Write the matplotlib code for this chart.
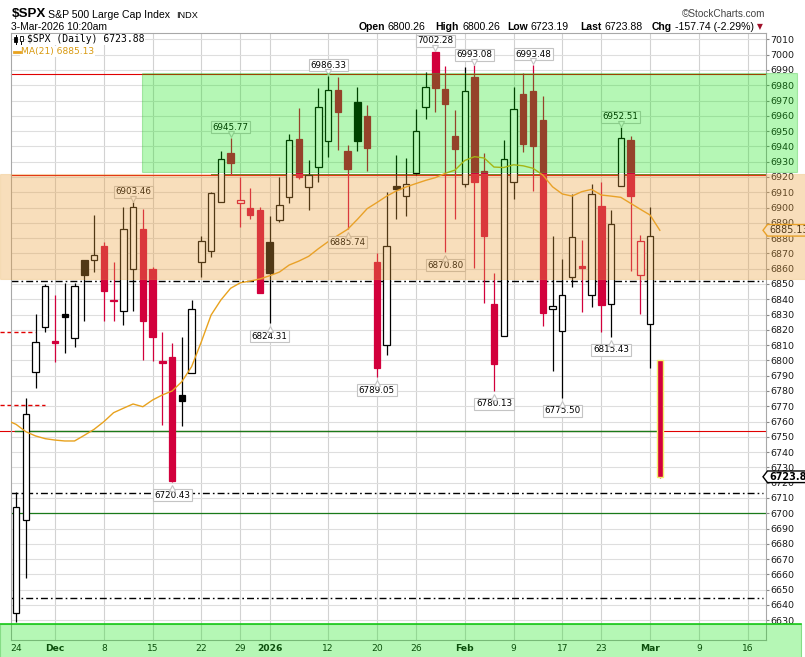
import matplotlib
matplotlib.use("Agg")
import matplotlib.pyplot as plt
import matplotlib.patches as patches
import matplotlib.transforms as mtransforms
import numpy as np

W, H, DPI = 805, 657, 100

# ---- data (daily candles, 24-Nov-2025 .. 3-Mar-2026) ----
dates = [
    "Nov24", "Nov25", "Nov26", "Nov28",
    "Dec1", "Dec2", "Dec3", "Dec4", "Dec5", "Dec8", "Dec9", "Dec10", "Dec11", "Dec12",
    "Dec15", "Dec16", "Dec17", "Dec18", "Dec19", "Dec22", "Dec23", "Dec24", "Dec26",
    "Dec29", "Dec30", "Dec31",
    "Jan2", "Jan5", "Jan6", "Jan7", "Jan8", "Jan9", "Jan12", "Jan13", "Jan14", "Jan15",
    "Jan16", "Jan20", "Jan21", "Jan22", "Jan23", "Jan26", "Jan27", "Jan28", "Jan29", "Jan30",
    "Feb2", "Feb3", "Feb4", "Feb5", "Feb6", "Feb9", "Feb10", "Feb11", "Feb12", "Feb13",
    "Feb17", "Feb18", "Feb19", "Feb20", "Feb23", "Feb24", "Feb25", "Feb26", "Feb27",
    "Mar2", "Mar3",
]
opens = [
    6634.6, 6695.6, 6792.2, 6821.7,
    6812.8, 6830.4, 6814.5, 6865.7, 6865.7, 6874.9, 6839.8, 6832.5, 6860.0, 6886.0,
    6859.8, 6799.6, 6802.0, 6777.2, 6791.6, 6864.2, 6871.6, 6903.8, 6935.9,
    6902.8, 6899.7, 6898.4,
    6877.7, 6891.7, 6907.1, 6944.8, 6913.3, 6926.7, 6943.3, 6976.9, 6937.0, 6969.1,
    6959.9, 6864.6, 6809.9, 6914.1, 6907.4, 6922.4, 6965.6, 7001.8, 6977.6, 6946.8,
    6915.4, 6985.6, 6923.9, 6836.9, 6816.0, 6916.5, 6974.3, 6976.3, 6957.3, 6833.4,
    6819.3, 6854.4, 6861.5, 6842.6, 6901.2, 6836.7, 6914.3, 6944.2, 6855.7,
    6823.6, 6800.26,
]
highs = [
    6714.1, 6775.2, 6830.4, 6850.0,
    6842.8, 6850.5, 6850.5, 6865.9, 6895.1, 6877.7, 6864.6, 6900.6, 6903.46, 6899.1,
    6860.9, 6818.6, 6811.6, 6815.1, 6839.5, 6881.4, 6910.5, 6937.0, 6945.77,
    6920.2, 6912.8, 6900.6,
    6894.5, 6920.2, 6948.1, 6964.9, 6931.1, 6978.0, 6986.33, 6985.6, 6940.9, 6979.1,
    6967.1, 6870.5, 6910.2, 6934.4, 6932.6, 6964.3, 6988.5, 7002.28, 6992.8, 6963.8,
    6992.1, 6993.08, 6935.5, 6857.0, 6944.2, 6979.1, 6987.8, 6993.48, 6973.0, 6881.4,
    6866.3, 6908.9, 6878.8, 6915.4, 6916.7, 6898.4, 6952.51, 6946.8, 6882.0,
    6900.6, 6800.26,
]
lows = [
    6629.1, 6657.9, 6782.2, 6818.8,
    6798.8, 6805.1, 6809.0, 6826.0, 6857.6, 6826.0, 6826.0, 6823.4, 6832.5, 6800.3,
    6799.6, 6757.7, 6720.43, 6757.3, 6791.6, 6854.8, 6867.9, 6903.5, 6921.3,
    6887.5, 6892.5, 6843.9,
    6824.31, 6890.7, 6903.2, 6918.5, 6898.4, 6916.9, 6933.3, 6937.7, 6885.74, 6937.2,
    6924.1, 6789.05, 6803.7, 6892.5, 6894.7, 6921.3, 6958.1, 6962.7, 6870.80, 6892.5,
    6913.6, 6860.7, 6837.4, 6780.13, 6816.0, 6905.6, 6936.5, 6911.0, 6822.7, 6793.3,
    6775.50, 6848.2, 6831.9, 6835.1, 6818.8, 6815.43, 6914.0, 6858.7, 6830.4,
    6795.2, 6723.19,
]
closes = [
    6704.3, 6764.9, 6811.9, 6848.5,
    6811.6, 6828.2, 6848.7, 6856.1, 6869.2, 6845.6, 6838.8, 6885.8, 6900.2, 6825.8,
    6815.5, 6798.6, 6720.9, 6773.3, 6833.4, 6878.1, 6909.7, 6931.6, 6929.3,
    6904.8, 6895.3, 6844.3,
    6857.4, 6901.5, 6944.2, 6920.2, 6921.5, 6965.6, 6976.7, 6962.7, 6925.4, 6943.7,
    6939.2, 6795.2, 6874.7, 6912.3, 6915.2, 6949.9, 6978.6, 6978.0, 6967.9, 6938.1,
    6976.3, 6916.9, 6881.6, 6797.5, 6931.8, 6964.3, 6941.4, 6940.3, 6831.2, 6835.4,
    6842.6, 6880.5, 6860.2, 6908.7, 6836.3, 6889.2, 6945.3, 6907.8, 6877.9,
    6881.62, 6723.88,
]
PREV_CLOSE = 6603.0          # close before the first candle (sets its colour)

# MA(21), first value is the day before the first candle
ma21 = [
    6761.0,
    6758.2, 6753.4, 6750.6, 6748.8, 6747.9, 6747.3, 6747.3, 6751.0, 6754.9, 6759.9,
    6765.8, 6768.7, 6771.5, 6769.7, 6774.1, 6777.4, 6780.0, 6786.1, 6795.9, 6812.2,
    6829.7, 6839.5, 6847.2, 6850.8, 6851.9, 6853.3, 6855.4, 6857.8, 6862.4, 6865.0,
    6868.1, 6873.1, 6877.7, 6881.8, 6885.8, 6892.3, 6899.3, 6903.3, 6907.5, 6910.9,
    6913.5, 6915.7, 6917.8, 6919.6, 6922.4, 6924.5, 6930.8, 6933.3, 6932.4, 6926.5,
    6926.2, 6928.0, 6927.3, 6925.7, 6921.3, 6913.6, 6908.9, 6907.5, 6910.4, 6911.9,
    6908.2, 6907.5, 6906.7, 6902.8, 6898.9, 6895.1, 6885.13,
]

tick_idx = [0, 4, 9, 14, 19, 23, 26, 32, 37, 41, 46, 51, 56, 60, 65, 70, 75]
tick_lbl = ["24", "Dec", "8", "15", "22", "29", "2026", "12", "20", "26",
            "Feb", "9", "17", "23", "Mar", "9", "16"]
bold_lbl = {"Dec", "2026", "Feb", "Mar"}

high_tag_idx = [12, 22, 32, 43, 47, 53, 62]
low_tag_idx = [16, 26, 34, 37, 44, 49, 56, 61]

# user-drawn levels / zones (price units)
green_zone = (6923.0, 6987.8)
orange_zone = (6853.0, 6921.8)
bottom_zone = (6590.0, 6627.4)
red_levels = [6987.4, 6921.3, 6754.0]
dashdot_levels = [6852.2, 6713.1, 6644.4]
green_full = 6700.0
left_red_dash = [(6818.4, 35), (6770.6, 45)]   # (price, right end in px)

# ---- colours ----
RED = "#d2003c"
BLACK = "#000000"
MA_COL = "#e8a21e"
GRID = "#dedede"
HEAD_FONT = "Liberation Sans"

# ---- layout in pixels ----
AX_L, AX_R, AX_T, AX_B = 11, 766, 33, 640
PX_PER_DAY = 9.755
X0_PX = 16.0


def px_to_i(px):
    return (px - X0_PX) / PX_PER_DAY


fig = plt.figure(figsize=(W / DPI, H / DPI), dpi=DPI)
fig.patch.set_facecolor("white")
ax = fig.add_axes([AX_L / W, 1 - AX_B / H, (AX_R - AX_L) / W, (AX_B - AX_T) / H])
ax.set_facecolor("white")
XMIN, XMAX = px_to_i(AX_L), px_to_i(AX_R)
ax.set_xlim(XMIN, XMAX)
ax.set_ylim(6617.1, 7014.2)

# grid
ax.set_yticks(np.arange(6630, 7011, 10))
ax.grid(axis="y", color=GRID, lw=0.8, zorder=0)
for t in tick_idx[1:]:
    ax.axvline(t, color="#d2d2d2", lw=0.8, zorder=0.5)

ax.set_xticks(tick_idx)
ax.set_xticklabels(tick_lbl)
for lab in ax.get_xticklabels():
    if lab.get_text() in bold_lbl:
        lab.set_fontweight("bold")
ax.tick_params(axis="x", length=0, pad=3.2, labelsize=6.6, colors="#111111")
ax.yaxis.tick_right()
ax.tick_params(axis="y", length=2, width=0.8, pad=0.8, labelsize=6.8,
               colors="#888888", labelcolor="#1a1a1a")
for sp in ax.spines.values():
    sp.set_color("#a8a8a8")
    sp.set_linewidth(0.8)

# ---- level lines ----
x_fig0 = px_to_i(0)
for lv in red_levels:
    ax.plot([x_fig0 if lv < 6800 else XMIN, XMAX], [lv, lv], color="#e00000",
            lw=0.8, zorder=2, clip_on=False)
ax.plot([px_to_i(15), 66], [6754.0, 6754.0], color="#1a7a1a", lw=1.0, zorder=2.1)
ax.plot([20, XMAX], [6922.1, 6922.1], color="#1a7a1a", lw=0.7, zorder=1.9)
ax.axhline(green_full, color="#1a7a1a", lw=0.9, zorder=2)
for lv in dashdot_levels:
    ax.plot([XMIN, px_to_i(763)], [lv, lv], color="black", lw=1.0,
            ls=(0, (5, 2.2, 1.2, 2.2)), zorder=2)
for lv, end_px in left_red_dash:
    ax.plot([x_fig0, px_to_i(end_px)], [lv, lv], color="#e00000", lw=1.0,
            ls=(0, (3, 2)), zorder=2, clip_on=False)

# ---- candles ----
BW = 0.66
prev = PREV_CLOSE
n = len(closes)
for i in range(n):
    o, h, l, c = opens[i], highs[i], lows[i], closes[i]
    col = BLACK if c >= prev else RED
    filled = c < o
    ax.vlines(i, l, h, color=col, lw=0.9, zorder=3)
    lo, hi = min(o, c), max(o, c)
    if hi - lo < 1.0:
        mid = (hi + lo) / 2
        lo, hi = mid - 0.6, mid + 0.6
    ec = "#f2ee6a" if i == n - 1 else col
    ax.add_patch(patches.Rectangle((i - BW / 2, lo), BW, hi - lo,
                                   fc=col if filled else "white", ec=ec,
                                   lw=1.0 if i == n - 1 else 0.9, zorder=4))
    prev = c

# MA(21)
ax.plot(np.arange(-1, n), ma21, color=MA_COL, lw=1.0, zorder=5)

# ---- high / low price tags ----
TAG_BOX = dict(boxstyle="square,pad=0.18", fc="white", ec="#c4c4c4", lw=0.8)
for i in high_tag_idx:
    ax.annotate(f"{highs[i]:.2f}", xy=(i, highs[i]), xytext=(0, 7.6),
                textcoords="offset points", ha="center", va="center",
                fontsize=6.3, bbox=TAG_BOX, zorder=8, annotation_clip=False)
    tr = mtransforms.offset_copy(ax.transData, fig=fig, x=0, y=2.6, units="points")
    ax.plot(i, highs[i], marker="v", ms=4.2, mfc="white", mec="#c4c4c4",
            mew=0.8, transform=tr, zorder=9, clip_on=False)
for i in low_tag_idx:
    ax.annotate(f"{lows[i]:.2f}", xy=(i, lows[i]), xytext=(0, -9.4),
                textcoords="offset points", ha="center", va="center",
                fontsize=6.3, bbox=TAG_BOX, zorder=8, annotation_clip=False)
    tr = mtransforms.offset_copy(ax.transData, fig=fig, x=0, y=-4.4, units="points")
    ax.plot(i, lows[i], marker="^", ms=4.2, mfc="white", mec="#c4c4c4",
            mew=0.8, transform=tr, zorder=9, clip_on=False)

# ---- right-axis value tags ----
yx = mtransforms.blended_transform_factory(ax.transAxes, ax.transData)


def right_tag(value, edge, bold):
    hh = 5.8 / 1.5286
    x_tip = (763 - AX_L) / (AX_R - AX_L)
    x_in = (767.5 - AX_L) / (AX_R - AX_L)
    x_end = (812 - AX_L) / (AX_R - AX_L)
    poly = patches.Polygon([(x_tip, value), (x_in, value + hh), (x_end, value + hh),
                            (x_end, value - hh), (x_in, value - hh)],
                           closed=True, fc="white", ec=edge, lw=1.0,
                           transform=yx, clip_on=False, zorder=10)
    ax.add_patch(poly)
    ax.text((769 - AX_L) / (AX_R - AX_L), value, f"{value:.2f}", transform=yx,
            ha="left", va="center", fontsize=6.9, color="black",
            fontweight="bold" if bold else "normal", clip_on=False, zorder=11)


right_tag(ma21[-1], MA_COL, False)
right_tag(closes[-1], "black", True)

# ---- translucent zones drawn over everything (as StockCharts does) ----
zt = mtransforms.blended_transform_factory(fig.transFigure, ax.transData)


def zone(x0, x1, y0, y1, fc, ec, lw=0.8):
    fig.add_artist(patches.Rectangle((x0 / W, y0), (x1 - x0) / W, y1 - y0,
                                     transform=zt, fc=fc, ec=ec, lw=lw, zorder=2))


zone(142, 797, green_zone[0], green_zone[1], (0.0, 0.9, 0.0, 0.29), (0.2, 0.75, 0.2, 0.35))
zone(0, 806, orange_zone[0], orange_zone[1], (0.92, 0.63, 0.24, 0.35), (0.9, 0.65, 0.25, 0.25))
zone(0, 801, bottom_zone[0], bottom_zone[1], (0.0, 0.9, 0.0, 0.29), (0.2, 0.75, 0.2, 0.5))
fig.add_artist(plt.Line2D([0, 801 / W], [bottom_zone[1], bottom_zone[1]],
                          transform=zt, color="#18c818", lw=1.2, zorder=2.1))

# ---- header / legend ----
def ftext(px, py, s, **kw):
    kw.setdefault("va", "center")
    return fig.text(px / W, 1 - py / H, s, **kw)


ftext(11.5, 14, "$SPX", fontsize=9.6, fontweight="bold", family=HEAD_FONT)
ftext(48, 14.5, "S&P 500 Large Cap Index", fontsize=7.6, family=HEAD_FONT)
ftext(176, 15, "INDX", fontsize=6.6, family=HEAD_FONT)
ftext(11, 26.5, "3-Mar-2026 10:20am", fontsize=7.4, family=HEAD_FONT)
ftext(765, 14, "\u00a9StockCharts.com", fontsize=7.2, ha="right", color="#444444",
      family=HEAD_FONT)

renderer = fig.canvas.get_renderer()
chg = closes[-1] - closes[-2]
pct = chg / closes[-2] * 100
pieces = [("Open", f"{opens[-1]:.2f}", 358.3), ("High", f"{highs[-1]:.2f}", 435.7),
          ("Low", f"{lows[-1]:.2f}", 507.0), ("Last", f"{closes[-1]:.2f}", 580.0),
          ("Chg", f"{chg:.2f} ({pct:.2f}%)", 652.0)]
for lab, val, x in pieces:
    t = ftext(x, 26.5, lab, fontsize=7.5, fontweight="bold", family=HEAD_FONT)
    x += t.get_window_extent(renderer).width + 3
    t = ftext(x, 26.5, val, fontsize=7.6, family=HEAD_FONT)
    x += t.get_window_extent(renderer).width
ftext(x + 3, 27, "\u25bc", fontsize=5.5, color="#a0102a")

LEG_BOX = dict(boxstyle="square,pad=0.1", fc="white", ec="none")
ftext(26.5, 39.5, f"$SPX (Daily) {closes[-1]:.2f}", fontsize=7.0, family="DejaVu Sans Mono",
      bbox=LEG_BOX, zorder=4)
ftext(20.5, 51.5, f"MA(21) {ma21[-1]:.2f}", fontsize=6.6, color="#d99a10",
      bbox=LEG_BOX, zorder=4)
fig.add_artist(plt.Line2D([14 / W, 19.5 / W], [1 - 51.5 / H, 1 - 51.5 / H],
                          color=MA_COL, lw=2.0, zorder=5))
# tiny candle glyph in the legend
for cx, y0, y1, b0, b1, fill in [(15.5, 35, 44, 37, 42, True), (21.0, 35.5, 44, 36.5, 41, False)]:
    fig.add_artist(plt.Line2D([cx / W, cx / W], [1 - y1 / H, 1 - y0 / H],
                              color="black", lw=0.7, zorder=5))
    fig.add_artist(patches.Rectangle(((cx - 1.5) / W, 1 - b1 / H), 3 / W, (b1 - b0) / H,
                                     fc="black" if fill else "white", ec="black",
                                     lw=0.6, zorder=6))

fig.savefig("out.png", dpi=DPI)
